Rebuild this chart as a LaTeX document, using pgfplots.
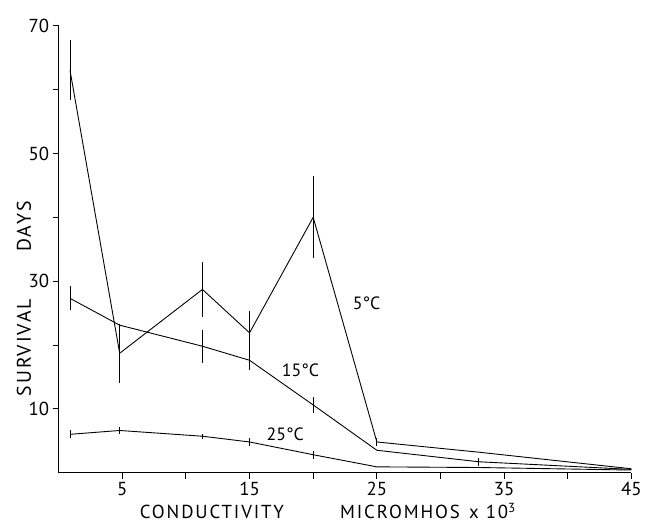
\documentclass[border=0pt]{standalone}
\usepackage{pgfplots}
\pgfplotsset{compat=1.18}
\usepackage{fontspec}
\setmainfont{PT Sans}
\newfontfamily\labfont[LetterSpace=10]{PT Sans}
\begin{document}
\begin{tikzpicture}
\pgfplotstableread{
x y e
0.9 63.0 4.7
4.8 18.7 4.6
11.3 28.7 4.3
15.0 21.9 3.4
20.0 40.0 6.4
25.0 4.8 0.7
33.0 3.2 0.0
45.0 0.6 0.0
}\fivec
\pgfplotstableread{
x y e
0.9 27.3 1.9
4.8 23.1 0.0
11.3 19.8 2.6
15.0 17.6 1.5
20.0 10.6 1.2
25.0 3.5 0.0
33.0 1.7 0.6
45.0 0.5 0.0
}\fifteenc
\pgfplotstableread{
x y e
0.9 6.0 0.6
4.8 6.6 0.6
11.3 5.7 0.4
15.0 4.8 0.6
20.0 2.8 0.6
25.0 0.9 0.0
33.0 0.8 0.0
45.0 0.4 0.0
}\twentyfivec
\begin{axis}[
  scale only axis,
  width=577bp, height=450bp,
  xmin=0, xmax=45, ymin=0, ymax=70,
  axis lines=left,
  axis line style={-, line width=1pt},
  xtick={5,15,25,35,45},
  minor xtick={10,20,30,40},
  ytick={10,30,50,70},
  minor ytick={20,40,60},
  tick align=outside,
  major tick length=6bp, minor tick length=6bp,
  every tick/.style={black, line width=0.8pt},
  tick label style={font=\fontsize{19}{21}\selectfont},
  /pgf/number format/assume math mode=true,
  xlabel={\labfont CONDUCTIVITY\hspace{3.0em}MICROMHOS\hspace{0.5em}x 10\textsuperscript{3}},
  ylabel={\labfont SURVIVAL\hspace{2.4em}DAYS},
  xlabel style={font=\fontsize{19}{21}\selectfont, at={([yshift=-39bp]axis description cs:0.47,0)}, anchor=center},
  ylabel style={font=\fontsize{20}{22}\selectfont, at={([xshift=-35bp]axis description cs:0,0.389)}, anchor=center},
  clip=false,
]
\addplot[black, line width=0.9pt, mark=none, error bars/.cd, y dir=both, y explicit, error mark=none, error bar style={line width=1pt}] table[x=x, y=y, y error=e] {\fivec};
\addplot[black, line width=0.9pt, mark=none, error bars/.cd, y dir=both, y explicit, error mark=none, error bar style={line width=1pt}] table[x=x, y=y, y error=e] {\fifteenc};
\addplot[black, line width=0.9pt, mark=none, error bars/.cd, y dir=both, y explicit, error mark=none, error bar style={line width=1pt}] table[x=x, y=y, y error=e] {\twentyfivec};
\node[font=\fontsize{18}{20}\selectfont] at (axis cs:24.2,26.6) {5\textdegree C};
\node[font=\fontsize{18}{20}\selectfont] at (axis cs:19.0,16.0) {15\textdegree C};
\node[font=\fontsize{18}{20}\selectfont] at (axis cs:17.8,6.0) {25\textdegree C};
\coordinate (O) at (axis cs:0,0);
\end{axis}
\useasboundingbox (O) ++(-59bp,-57bp) rectangle ++(645bp,533bp);
\end{tikzpicture}
\end{document}
